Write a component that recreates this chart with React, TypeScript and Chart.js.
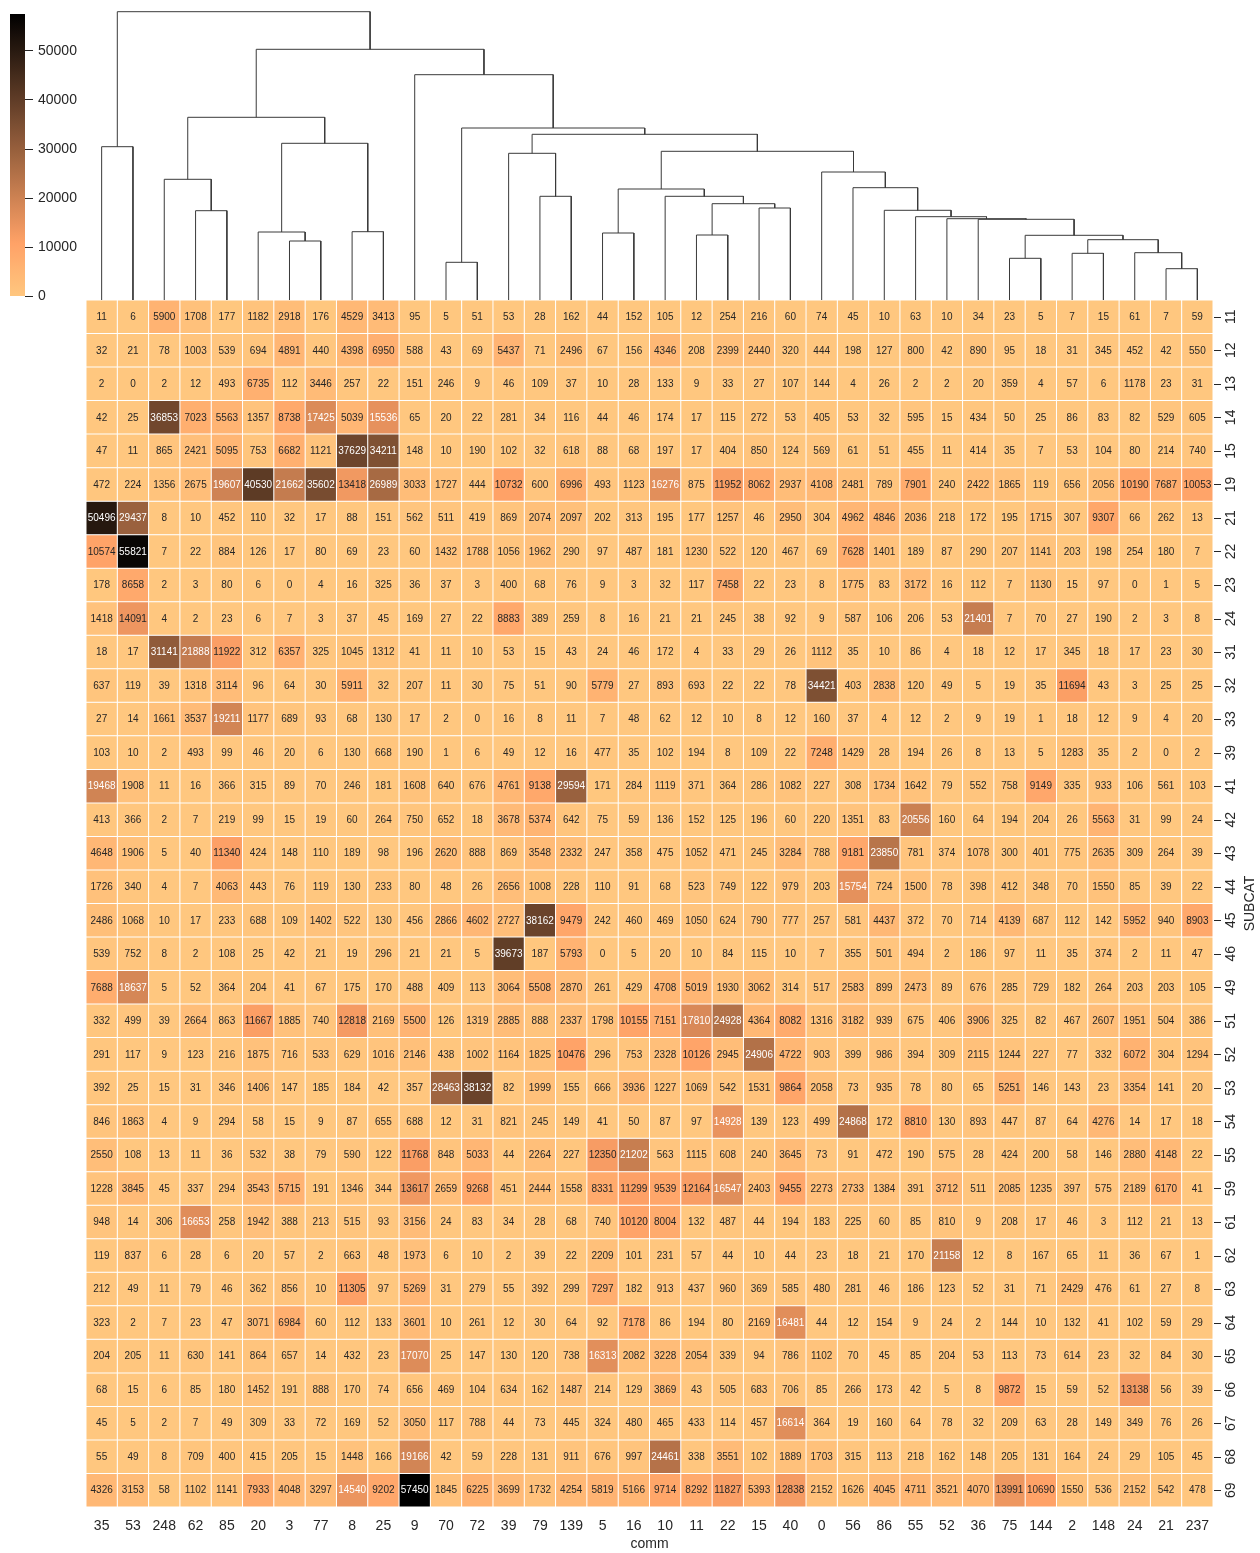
import React, { useEffect, useRef } from 'react';
import { Chart, registerables } from 'chart.js';
Chart.register(...registerables);

const FONT = "'Liberation Sans', Arial, sans-serif";
const TXT = '#262626';

const colLabels = ['35','53','248','62','85','20','3','77','8','25','9','70','72','39','79','139','5','16','10','11','22','15','40','0','56','86','55','52','36','75','144','2','148','24','21','237'];
const rowLabels = ['11','12','13','14','15','19','21','22','23','24','31','32','33','39','41','42','43','44','45','46','49','51','52','53','54','55','59','61','62','63','64','65','66','67','68','69'];

const r11 = [11,6,5900,1708,177,1182,2918,176,4529,3413,95,5,51,53,28,162,44,152,105,12,254,216,60,74,45,10,63,10,34,23,5,7,15,61,7,59];
const r12 = [32,21,78,1003,539,694,4891,440,4398,6950,588,43,69,5437,71,2496,67,156,4346,208,2399,2440,320,444,198,127,800,42,890,95,18,31,345,452,42,550];
const r13 = [2,0,2,12,493,6735,112,3446,257,22,151,246,9,46,109,37,10,28,133,9,33,27,107,144,4,26,2,2,20,359,4,57,6,1178,23,31];
const r14 = [42,25,36853,7023,5563,1357,8738,17425,5039,15536,65,20,22,281,34,116,44,46,174,17,115,272,53,405,53,32,595,15,434,50,25,86,83,82,529,605];
const r15 = [47,11,865,2421,5095,753,6682,1121,37629,34211,148,10,190,102,32,618,88,68,197,17,404,850,124,569,61,51,455,11,414,35,7,53,104,80,214,740];
const r19 = [472,224,1356,2675,19607,40530,21662,35602,13418,26989,3033,1727,444,10732,600,6996,493,1123,16276,875,11952,8062,2937,4108,2481,789,7901,240,2422,1865,119,656,2056,10190,7687,10053];
const r21 = [50496,29437,8,10,452,110,32,17,88,151,562,511,419,869,2074,2097,202,313,195,177,1257,46,2950,304,4962,4846,2036,218,172,195,1715,307,9307,66,262,13];
const r22 = [10574,55821,7,22,884,126,17,80,69,23,60,1432,1788,1056,1962,290,97,487,181,1230,522,120,467,69,7628,1401,189,87,290,207,1141,203,198,254,180,7];
const r23 = [178,8658,2,3,80,6,0,4,16,325,36,37,3,400,68,76,9,3,32,117,7458,22,23,8,1775,83,3172,16,112,7,1130,15,97,0,1,5];
const r24 = [1418,14091,4,2,23,6,7,3,37,45,169,27,22,8883,389,259,8,16,21,21,245,38,92,9,587,106,206,53,21401,7,70,27,190,2,3,8];
const r31 = [18,17,31141,21888,11922,312,6357,325,1045,1312,41,11,10,53,15,43,24,46,172,4,33,29,26,1112,35,10,86,4,18,12,17,345,18,17,23,30];
const r32 = [637,119,39,1318,3114,96,64,30,5911,32,207,11,30,75,51,90,5779,27,893,693,22,22,78,34421,403,2838,120,49,5,19,35,11694,43,3,25,25];
const r33 = [27,14,1661,3537,19211,1177,689,93,68,130,17,2,0,16,8,11,7,48,62,12,10,8,12,160,37,4,12,2,9,19,1,18,12,9,4,20];
const r39 = [103,10,2,493,99,46,20,6,130,668,190,1,6,49,12,16,477,35,102,194,8,109,22,7248,1429,28,194,26,8,13,5,1283,35,2,0,2];
const r41 = [19468,1908,11,16,366,315,89,70,246,181,1608,640,676,4761,9138,29594,171,284,1119,371,364,286,1082,227,308,1734,1642,79,552,758,9149,335,933,106,561,103];
const r42 = [413,366,2,7,219,99,15,19,60,264,750,652,18,3678,5374,642,75,59,136,152,125,196,60,220,1351,83,20556,160,64,194,204,26,5563,31,99,24];
const r43 = [4648,1906,5,40,11340,424,148,110,189,98,196,2620,888,869,3548,2332,247,358,475,1052,471,245,3284,788,9181,23850,781,374,1078,300,401,775,2635,309,264,39];
const r44 = [1726,340,4,7,4063,443,76,119,130,233,80,48,26,2656,1008,228,110,91,68,523,749,122,979,203,15754,724,1500,78,398,412,348,70,1550,85,39,22];
const r45 = [2486,1068,10,17,233,688,109,1402,522,130,456,2866,4602,2727,38162,9479,242,460,469,1050,624,790,777,257,581,4437,372,70,714,4139,687,112,142,5952,940,8903];
const r46 = [539,752,8,2,108,25,42,21,19,296,21,21,5,39673,187,5793,0,5,20,10,84,115,10,7,355,501,494,2,186,97,11,35,374,2,11,47];
const r49 = [7688,18637,5,52,364,204,41,67,175,170,488,409,113,3064,5508,2870,261,429,4708,5019,1930,3062,314,517,2583,899,2473,89,676,285,729,182,264,203,203,105];
const r51 = [332,499,39,2664,863,11667,1885,740,12818,2169,5500,126,1319,2885,888,2337,1798,10155,7151,17810,24928,4364,8082,1316,3182,939,675,406,3906,325,82,467,2607,1951,504,386];
const r52 = [291,117,9,123,216,1875,716,533,629,1016,2146,438,1002,1164,1825,10476,296,753,2328,10126,2945,24906,4722,903,399,986,394,309,2115,1244,227,77,332,6072,304,1294];
const r53 = [392,25,15,31,346,1406,147,185,184,42,357,28463,38132,82,1999,155,666,3936,1227,1069,542,1531,9864,2058,73,935,78,80,65,5251,146,143,23,3354,141,20];
const r54 = [846,1863,4,9,294,58,15,9,87,655,688,12,31,821,245,149,41,50,87,97,14928,139,123,499,24868,172,8810,130,893,447,87,64,4276,14,17,18];
const r55 = [2550,108,13,11,36,532,38,79,590,122,11768,848,5033,44,2264,227,12350,21202,563,1115,608,240,3645,73,91,472,190,575,28,424,200,58,146,2880,4148,22];
const r59 = [1228,3845,45,337,294,3543,5715,191,1346,344,13617,2659,9268,451,2444,1558,8331,11299,9539,12164,16547,2403,9455,2273,2733,1384,391,3712,511,2085,1235,397,575,2189,6170,41];
const r61 = [948,14,306,16653,258,1942,388,213,515,93,3156,24,83,34,28,68,740,10120,8004,132,487,44,194,183,225,60,85,810,9,208,17,46,3,112,21,13];
const r62 = [119,837,6,28,6,20,57,2,663,48,1973,6,10,2,39,22,2209,101,231,57,44,10,44,23,18,21,170,21158,12,8,167,65,11,36,67,1];
const r63 = [212,49,11,79,46,362,856,10,11305,97,5269,31,279,55,392,299,7297,182,913,437,960,369,585,480,281,46,186,123,52,31,71,2429,476,61,27,8];
const r64 = [323,2,7,23,47,3071,6984,60,112,133,3601,10,261,12,30,64,92,7178,86,194,80,2169,16481,44,12,154,9,24,2,144,10,132,41,102,59,29];
const r65 = [204,205,11,630,141,864,657,14,432,23,17070,25,147,130,120,738,16313,2082,3228,2054,339,94,786,1102,70,45,85,204,53,113,73,614,23,32,84,30];
const r66 = [68,15,6,85,180,1452,191,888,170,74,656,469,104,634,162,1487,214,129,3869,43,505,683,706,85,266,173,42,5,8,9872,15,59,52,13138,56,39];
const r67 = [45,5,2,7,49,309,33,72,169,52,3050,117,788,44,73,445,324,480,465,433,114,457,16614,364,19,160,64,78,32,209,63,28,149,349,76,26];
const r68 = [55,49,8,709,400,415,205,15,1448,166,19166,42,59,228,131,911,676,997,24461,338,3551,102,1889,1703,315,113,218,162,148,205,131,164,24,29,105,45];
const r69 = [4326,3153,58,1102,1141,7933,4048,3297,14540,9202,57450,1845,6225,3699,1732,4254,5819,5166,9714,8292,11827,5393,12838,2152,1626,4045,4711,3521,4070,13991,10690,1550,536,2152,542,478];

const rowValues = [r11,r12,r13,r14,r15,r19,r21,r22,r23,r24,r31,r32,r33,r39,r41,r42,r43,r44,r45,r46,r49,r51,r52,r53,r54,r55,r59,r61,r62,r63,r64,r65,r66,r67,r68,r69];

const VMIN = 0;
const VMAX = 57450;
const colorbarTicks = [0, 10000, 20000, 30000, 40000, 50000];

// Column dendrogram (linkage): leaf = column index, node = [left, right, merge distance]
const colTree: any = [
  [0, 1, 153.3],
  [
    [
      [2, [3, 4, 89.3], 120.7],
      [[5, [6, 7, 59.0], 68.0], [8, 9, 68.3], 156.7],
      182.7,
    ],
    [
      10,
      [
        [11, 12, 37.7],
        [
          [13, [14, 15, 103.7], 146.7],
          [
            [[16, 17, 67.0], [18, [[19, 20, 65.0], [21, 22, 92.0], 96.3], 103.7], 111.0],
            [
              23,
              [24, [25, [26, [27, [28, [[29, 30, 41.7], [[31, 32, 46.7], [33, [34, 35, 31.3], 47.3], 60.3], 64.7], 80.7], 81.3], 83.3], 89.7], 112.3],
              128.0,
            ],
            148.7,
          ],
          165.7,
        ],
        172.0,
      ],
      225.3,
    ],
    250.7,
  ],
  288.3,
];
const DENDRO_TOP = 300;

// copper_r colormap
function cmap(t: number): [number, number, number] {
  const tt = Math.max(0, Math.min(1, t));
  const x = 1 - tt;
  const r = Math.min(1, x / 0.809524);
  const g = 0.7812 * x;
  const b = 0.4975 * x;
  return [Math.round(r * 255), Math.round(g * 255), Math.round(b * 255)];
}
function cmapCss(t: number) {
  const [r, g, b] = cmap(t);
  return `rgb(${r},${g},${b})`;
}
function relLum(rgb: [number, number, number]) {
  const f = (c: number) => {
    c /= 255;
    return c <= 0.03928 ? c / 12.92 : Math.pow((c + 0.055) / 1.055, 2.4);
  };
  return 0.2126 * f(rgb[0]) + 0.7152 * f(rgb[1]) + 0.0722 * f(rgb[2]);
}
const norm = (v: number) => (v - VMIN) / (VMAX - VMIN);

function buildLinks(tree: any) {
  const links: { x: number; y: number }[][] = [];
  const walk = (node: any): { x: number; h: number } => {
    if (typeof node === 'number') return { x: node + 0.5, h: 0 };
    const l = walk(node[0]);
    const r = walk(node[1]);
    const d = node[2];
    links.push([
      { x: l.x, y: l.h },
      { x: l.x, y: d },
      { x: r.x, y: d },
      { x: r.x, y: r.h },
    ]);
    return { x: (l.x + r.x) / 2, h: d };
  };
  walk(tree);
  return links;
}

const annotPlugin = {
  id: 'annot',
  afterDatasetsDraw(chart: any) {
    const ctx = chart.ctx;
    ctx.save();
    ctx.font = `10px ${FONT}`;
    ctx.textAlign = 'center';
    ctx.textBaseline = 'middle';
    rowValues.forEach((vals, i) => {
      const meta = chart.getDatasetMeta(i);
      meta.data.forEach((el: any, j: number) => {
        const v = vals[j];
        const p = el.getCenterPoint();
        ctx.fillStyle = relLum(cmap(norm(v))) > 0.408 ? TXT : '#ffffff';
        ctx.fillText(String(v), p.x, p.y + 0.5);
      });
    });
    ctx.restore();
  },
};

const rowLabelPlugin = {
  id: 'rowLabels',
  afterDraw(chart: any) {
    const ctx = chart.ctx;
    const ys = chart.scales.y;
    const right = chart.chartArea.right;
    ctx.save();
    ctx.strokeStyle = TXT;
    ctx.lineWidth = 1;
    ctx.fillStyle = TXT;
    ctx.font = `14px ${FONT}`;
    ctx.textAlign = 'center';
    ctx.textBaseline = 'middle';
    rowLabels.forEach((lab, i) => {
      const y = ys.getPixelForValue(i + 0.5);
      ctx.beginPath();
      ctx.moveTo(right + 1, Math.round(y) + 0.5);
      ctx.lineTo(right + 8, Math.round(y) + 0.5);
      ctx.stroke();
      ctx.save();
      ctx.translate(right + 18, y);
      ctx.rotate(-Math.PI / 2);
      ctx.fillText(lab, 0, 0);
      ctx.restore();
    });
    const cy = (chart.chartArea.top + chart.chartArea.bottom) / 2;
    ctx.save();
    ctx.translate(right + 37, cy);
    ctx.rotate(-Math.PI / 2);
    ctx.fillText('SUBCAT', 0, 0);
    ctx.restore();
    ctx.restore();
  },
};

export default function App() {
  const cbRef = useRef<HTMLCanvasElement>(null);
  const dRef = useRef<HTMLCanvasElement>(null);
  const hRef = useRef<HTMLCanvasElement>(null);

  useEffect(() => {
    const charts: Chart[] = [];

    // colorbar
    charts.push(
      new Chart(cbRef.current as HTMLCanvasElement, {
        type: 'bar',
        data: {
          labels: [''],
          datasets: [
            {
              data: [[VMIN, VMAX]] as any,
              backgroundColor: (c: any) => {
                const ch = c.chart;
                if (!ch.chartArea) return '#000';
                const ys = ch.scales.y;
                const g = ch.ctx.createLinearGradient(0, ys.getPixelForValue(VMIN), 0, ys.getPixelForValue(VMAX));
                for (let k = 0; k <= 32; k++) g.addColorStop(k / 32, cmapCss(k / 32));
                return g;
              },
              borderWidth: 0,
              inflateAmount: 0,
              barPercentage: 1,
              categoryPercentage: 1,
            } as any,
          ],
        },
        options: {
          responsive: false,
          animation: false,
          devicePixelRatio: 1,
          layout: { padding: { left: 10, top: 14, bottom: 11, right: 0 } },
          plugins: { legend: { display: false }, tooltip: { enabled: false } },
          scales: {
            x: { display: false },
            y: {
              position: 'right',
              min: VMIN,
              max: VMAX,
              grid: { display: true, drawOnChartArea: false, drawTicks: true, tickLength: 8, color: TXT },
              border: { display: false },
              ticks: {
                stepSize: 10000,
                font: { family: FONT, size: 14 },
                color: TXT,
                padding: 5,
                callback: (v: any) => String(v),
              },
              afterBuildTicks: (s: any) => {
                s.ticks = colorbarTicks.map((v) => ({ value: v }));
              },
              afterFit: (s: any) => {
                s.width = 65;
              },
            } as any,
          },
        },
      })
    );

    // dendrogram
    const links = buildLinks(colTree);
    charts.push(
      new Chart(dRef.current as HTMLCanvasElement, {
        type: 'scatter',
        data: {
          datasets: links.map((pts) => ({
            data: pts,
            showLine: true,
            borderColor: '#3a3a3a',
            borderWidth: 1,
            pointRadius: 0,
            fill: false,
            clip: 4,
          })) as any,
        },
        options: {
          responsive: false,
          animation: false,
          devicePixelRatio: 1,
          layout: { padding: 0 },
          plugins: { legend: { display: false }, tooltip: { enabled: false } },
          scales: {
            x: { type: 'linear', min: 0, max: colLabels.length, display: false },
            y: { type: 'linear', min: 0, max: DENDRO_TOP, display: false },
          },
        },
      })
    );

    // heatmap
    charts.push(
      new Chart(hRef.current as HTMLCanvasElement, {
        type: 'bar',
        data: {
          labels: colLabels,
          datasets: rowValues.map((vals, i) => ({
            label: rowLabels[i],
            data: vals.map(() => 1),
            backgroundColor: vals.map((v) => cmapCss(norm(v))),
            borderColor: '#ffffff',
            borderWidth: 0.5,
            borderSkipped: false,
            inflateAmount: 0,
            barPercentage: 1,
            categoryPercentage: 1,
            stack: 'cells',
          })) as any,
        },
        options: {
          responsive: false,
          animation: false,
          devicePixelRatio: 1,
          layout: { padding: { left: 86, right: 47, top: 0, bottom: 0 } },
          plugins: { legend: { display: false }, tooltip: { enabled: false } },
          scales: {
            x: {
              type: 'category',
              stacked: true,
              grid: { display: false, drawTicks: false },
              border: { display: false },
              ticks: { font: { family: FONT, size: 14 }, color: TXT, padding: 11, autoSkip: false, maxRotation: 0 },
              title: { display: true, text: 'comm', font: { family: FONT, size: 14 }, color: TXT, padding: { top: 0, bottom: 0 } },
              afterFit: (s: any) => {
                s.height = 46;
              },
            } as any,
            y: { type: 'linear', stacked: true, min: 0, max: rowLabels.length, reverse: true, display: false },
          },
        },
        plugins: [annotPlugin, rowLabelPlugin],
      })
    );

    return () => charts.forEach((c) => c.destroy());
  }, []);

  return (
    <div style={{ position: 'absolute', left: 0, top: 0, width: 1260, height: 1553, background: '#ffffff', overflow: 'hidden' }}>
      <canvas ref={cbRef} width={90} height={310} style={{ position: 'absolute', left: 0, top: 0 }} />
      <canvas ref={dRef} width={1127} height={300} style={{ position: 'absolute', left: 86, top: 0 }} />
      <canvas ref={hRef} width={1260} height={1253} style={{ position: 'absolute', left: 0, top: 300 }} />
    </div>
  );
}
